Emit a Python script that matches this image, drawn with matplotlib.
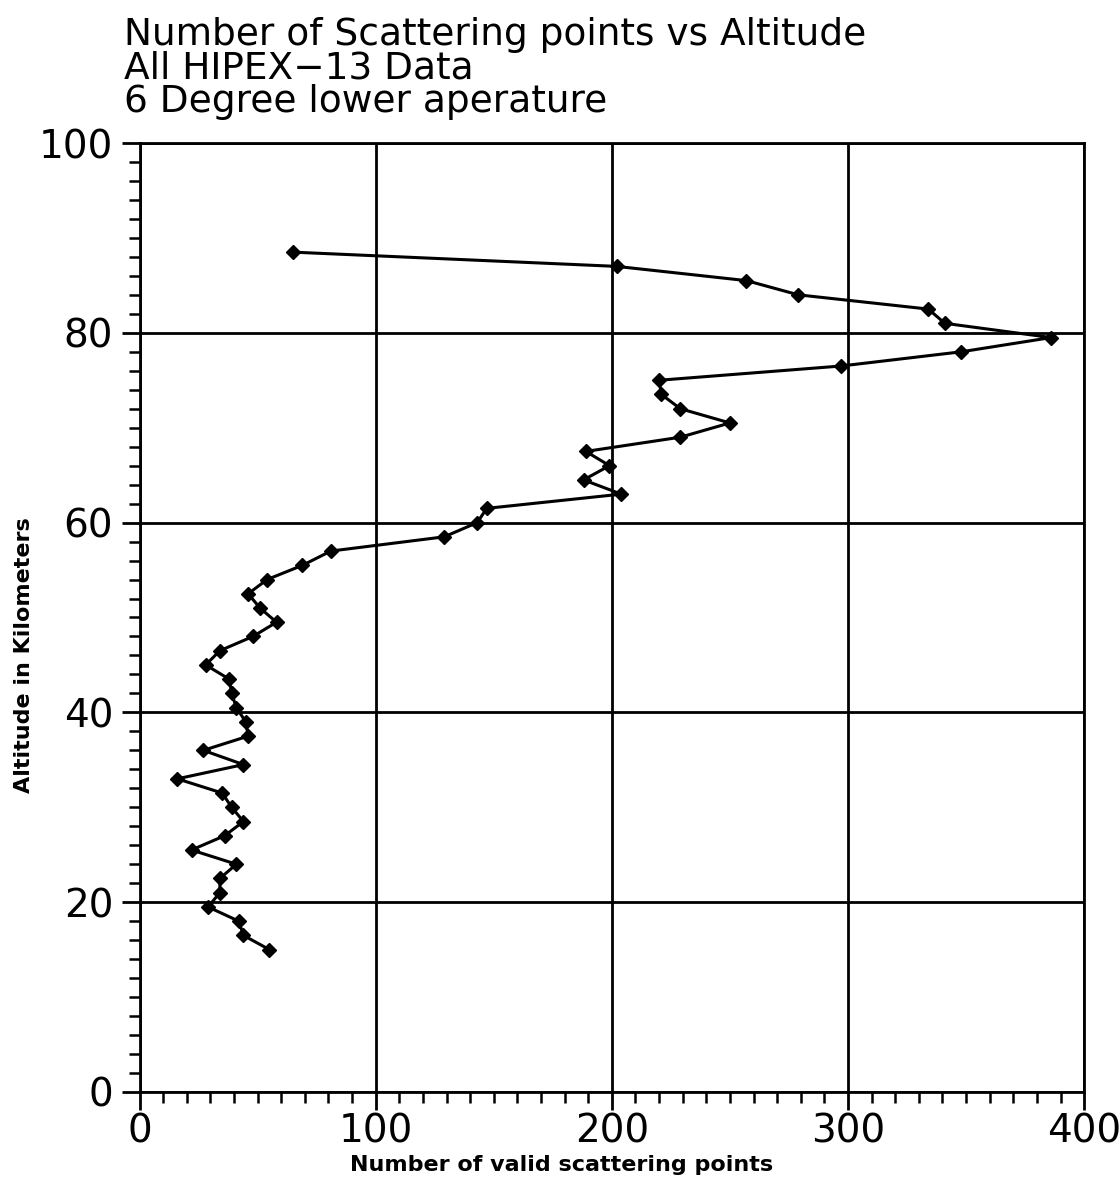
import matplotlib
matplotlib.use("Agg")
import matplotlib.pyplot as plt
from matplotlib.ticker import MultipleLocator

plt.rcParams['font.family'] = ['DejaVu Sans']

# Altitude bins (km) and number of valid scattering points in each
altitude_km = [15.0, 16.5, 18.0, 19.5, 21.0, 22.5, 24.0, 25.5, 27.0, 28.5,
               30.0, 31.5, 33.0, 34.5, 36.0, 37.5, 39.0, 40.5, 42.0, 43.5,
               45.0, 46.5, 48.0, 49.5, 51.0, 52.5, 54.0, 55.5, 57.0, 58.5,
               60.0, 61.5, 63.0, 64.5, 66.0, 67.5, 69.0, 70.5, 72.0, 73.5,
               75.0, 76.5, 78.0, 79.5, 81.0, 82.5, 84.0, 85.5, 87.0, 88.5]
valid_points = [55, 44, 42, 29, 34, 34, 41, 22, 36, 44,
                39, 35, 16, 44, 27, 46, 45, 41, 39, 38,
                28, 34, 48, 58, 51, 46, 54, 69, 81, 129,
                143, 147, 204, 188, 199, 189, 229, 250, 229, 221,
                220, 297, 348, 386, 341, 334, 279, 257, 202, 65]

x_ticks = [0, 100, 200, 300, 400]
y_ticks = [0, 20, 40, 60, 80, 100]
title_lines = ["Number of Scattering points vs Altitude",
               "All HIPEX\u221213 Data",
               "6 Degree lower aperature"]

fig = plt.figure(figsize=(11.2, 11.8), dpi=100)
ax = fig.add_axes([0.1246, 0.0746, 0.8434, 0.8042])

ax.plot(valid_points, altitude_km, color='black', linewidth=2.2,
        marker='D', markersize=7, markerfacecolor='black',
        markeredgecolor='black', zorder=3)

ax.set_xlim(0, 400)
ax.set_ylim(0, 100)
ax.set_xticks(x_ticks)
ax.set_yticks(y_ticks)
ax.xaxis.set_minor_locator(MultipleLocator(10))
ax.yaxis.set_minor_locator(MultipleLocator(2))

ax.grid(True, which='major', color='black', linewidth=2.0)
for s in ax.spines.values():
    s.set_linewidth(2.0)

ax.tick_params(axis='both', which='major', direction='out', length=13,
               width=2.0, labelsize=28)
ax.tick_params(axis='x', which='major', pad=2)
ax.tick_params(axis='y', which='major', pad=6)
ax.tick_params(axis='both', which='minor', direction='out', length=8,
               width=1.8)

ax.set_xlabel("Number of valid scattering points", fontsize=16,
              fontweight='bold')
ax.xaxis.set_label_coords(0.447, -0.066)
ax.set_ylabel("Altitude in Kilometers", fontsize=16, fontweight='bold')
ax.yaxis.set_label_coords(-0.112, 0.46)

for i, line in enumerate(title_lines):
    fig.text(0.111, 0.986 - i * 0.0288, line, fontsize=27, va='top',
             ha='left')

fig.savefig("out.png", dpi=100)
